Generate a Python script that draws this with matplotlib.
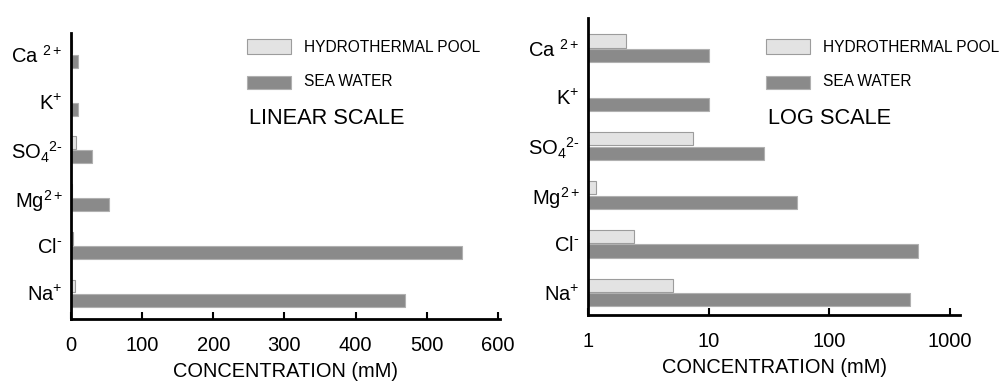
import numpy as np
import matplotlib
matplotlib.use("Agg")
import matplotlib.pyplot as plt
from matplotlib.patches import Rectangle

plt.rcParams['font.family'] = ['Liberation Sans', 'DejaVu Sans']
plt.rcParams['mathtext.fontset'] = 'custom'
plt.rcParams['mathtext.rm'] = 'Liberation Sans'
plt.rcParams['mathtext.it'] = 'Liberation Sans'
plt.rcParams['mathtext.bf'] = 'Liberation Sans:bold'

# Data (mM), bottom to top
ions = ['Na$^{+}$', 'Cl$^{\u2010}$', 'Mg$^{2+}$', 'SO$_4$$^{2\u2010}$', 'K$^{+}$', 'Ca $^{2+}$']
hydrothermal = [5.1, 2.4, 1.17, 7.4, np.nan, 2.05]
sea_water = [470, 550, 54, 29, 10, 10]

linear_ticks = [0, 100, 200, 300, 400, 500, 600]
log_ticks = [1, 10, 100, 1000]
log_tick_labels = ['1', '10', '100', '1000']

W, H = 1005, 381
fig = plt.figure(figsize=(W / 100, H / 100), dpi=100)

def px_axes(x0, y0, x1, y1):
    return fig.add_axes([x0 / W, 1 - y1 / H, (x1 - x0) / W, (y1 - y0) / H])

HY_FACE, HY_EDGE = '#e3e3e3', '#9c9c9c'
SW_FACE, SW_EDGE = '#8a8a8a', '#b0b0b0'

def style(ax):
    for s in ['top', 'right']:
        ax.spines[s].set_visible(False)
    for s in ['left', 'bottom']:
        ax.spines[s].set_linewidth(2.0)
        ax.spines[s].set_color('black')
    ax.tick_params(axis='x', direction='in', length=5, width=1.5, labelsize=14.5, pad=12)
    ax.tick_params(axis='x', which='minor', length=0)
    ax.tick_params(axis='y', length=0, labelsize=14.5, pad=6)

y = np.arange(len(ions))
off, hgt = 0.15, 0.27

# Linear
ax1 = px_axes(71, 33, 500, 319)
ax1.barh(y + off, hydrothermal, height=hgt, color=HY_FACE, edgecolor=HY_EDGE, linewidth=0.8)
ax1.barh(y - off, sea_water, height=hgt, color=SW_FACE, edgecolor=SW_EDGE, linewidth=0.8)
ax1.set_xlim(0, 603)
ax1.set_ylim(-0.54, 5.44)
ax1.set_xticks(linear_ticks)
ax1.set_yticks(y)
ax1.set_yticklabels(ions)
style(ax1)
ax1.set_xlabel('CONCENTRATION (mM)', fontsize=14.4, labelpad=5)

# Log
ax2 = px_axes(588, 18, 960, 315)
ax2.set_xscale('log')
ax2.barh(y + off, np.array(hydrothermal) - 1, left=1, height=hgt, color=HY_FACE, edgecolor=HY_EDGE, linewidth=0.8)
ax2.barh(y - off, np.array(sea_water) - 1, left=1, height=hgt, color=SW_FACE, edgecolor=SW_EDGE, linewidth=0.8)
ax2.set_xlim(1, 1216)
ax2.set_ylim(-0.46, 5.62)
ax2.set_xticks(log_ticks)
ax2.set_xticklabels(log_tick_labels)
ax2.set_yticks(y)
ax2.set_yticklabels(ions)
style(ax2)
ax2.set_xlabel('CONCENTRATION (mM)', fontsize=14.4, labelpad=5)

def legend(x0, title):
    fig.patches.append(Rectangle((x0 / W, 1 - 54 / H), 44 / W, 15 / H, transform=fig.transFigure,
                                 facecolor=HY_FACE, edgecolor=HY_EDGE, linewidth=0.8))
    fig.patches.append(Rectangle((x0 / W, 1 - 89 / H), 44 / W, 13 / H, transform=fig.transFigure,
                                 facecolor=SW_FACE, edgecolor=SW_EDGE, linewidth=0.8))
    fig.text((x0 + 57) / W, 1 - 48 / H, 'HYDROTHERMAL POOL', fontsize=11.2, va='center', ha='left')
    fig.text((x0 + 57) / W, 1 - 82 / H, 'SEA WATER', fontsize=11.2, va='center', ha='left')
    fig.text((x0 + 2) / W, 1 - 118 / H, title, fontsize=15.7, va='center', ha='left')

legend(247, 'LINEAR SCALE')
legend(766, 'LOG SCALE')

fig.savefig('out.png', dpi=100)
